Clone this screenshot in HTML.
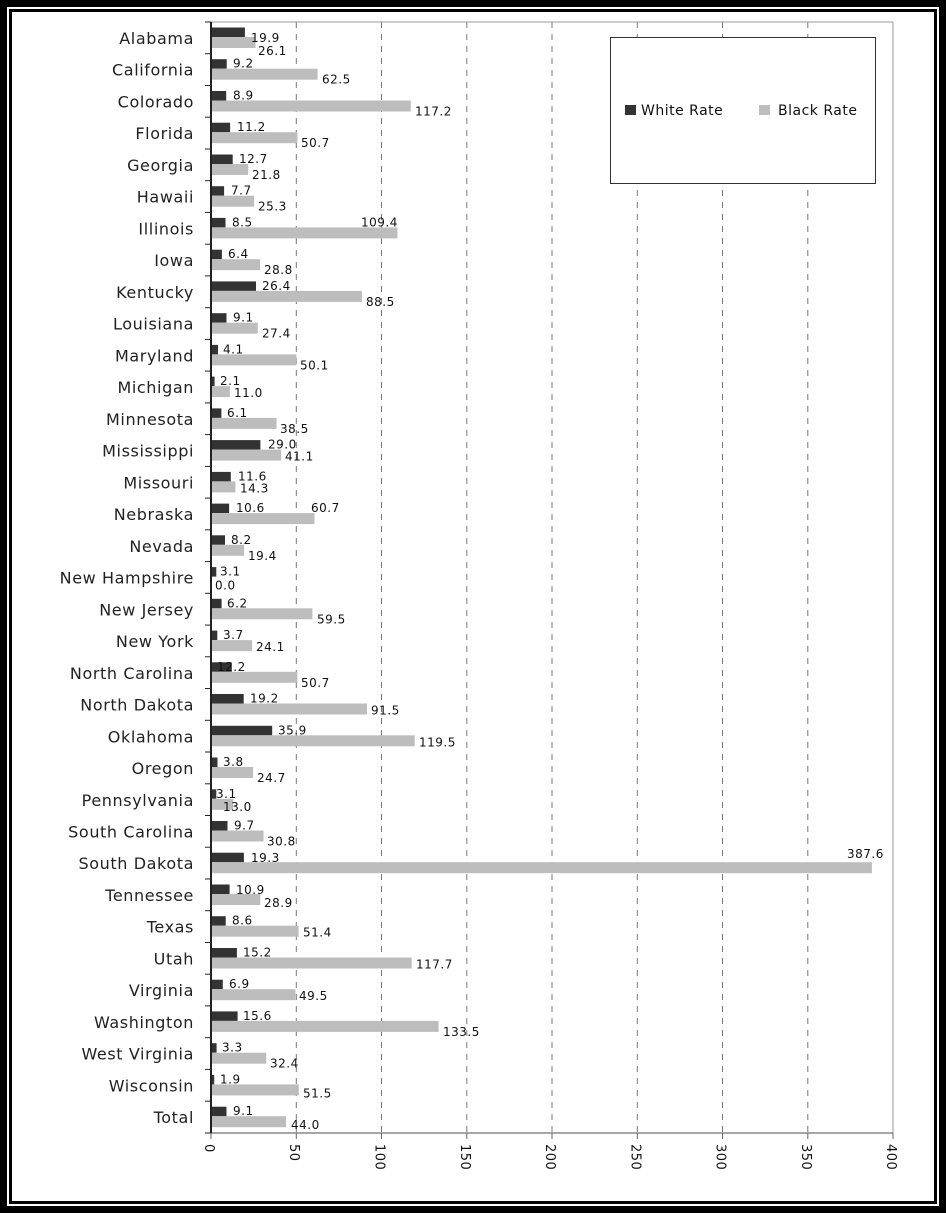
<!DOCTYPE html>
<html><head><meta charset="utf-8"><style>
html,body{margin:0;padding:0;background:#fff;}
svg{display:block;}
.s{font-family:"DejaVu Sans","Liberation Sans",sans-serif;font-size:16px;fill:#222;text-anchor:end;letter-spacing:0.6px;}
.v{font-family:"DejaVu Sans","Liberation Sans",sans-serif;font-size:12px;fill:#111;letter-spacing:0.5px;}
.w{fill:#333;}
.b{fill:#bdbdbd;}
</style></head><body>
<svg width="946" height="1213" viewBox="0 0 946 1213" xmlns="http://www.w3.org/2000/svg">
<rect x="0" y="0" width="946" height="1213" fill="#000"/>
<rect x="7" y="7" width="932" height="1199" fill="#fff"/>
<rect x="9" y="9" width="928" height="1195" fill="#000"/>
<rect x="12" y="12" width="922" height="1189" fill="#fff"/>
<g stroke="#777" stroke-width="1" stroke-dasharray="6,6">
<line x1="296.3" y1="22" x2="296.3" y2="1133"/>
<line x1="381.5" y1="22" x2="381.5" y2="1133"/>
<line x1="466.8" y1="22" x2="466.8" y2="1133"/>
<line x1="552" y1="22" x2="552" y2="1133"/>
<line x1="637.3" y1="22" x2="637.3" y2="1133"/>
<line x1="722.5" y1="22" x2="722.5" y2="1133"/>
<line x1="807.8" y1="22" x2="807.8" y2="1133"/>
</g>
<line x1="211" y1="22" x2="893" y2="22" stroke="#999"/>
<line x1="893" y1="22" x2="893" y2="1133" stroke="#999"/>
<line x1="211" y1="1133" x2="893" y2="1133" stroke="#888" stroke-width="1.5"/>
<g stroke="#666">
<line x1="211" y1="1133" x2="211" y2="1139"/><line x1="296.3" y1="1133" x2="296.3" y2="1139"/><line x1="381.5" y1="1133" x2="381.5" y2="1139"/><line x1="466.8" y1="1133" x2="466.8" y2="1139"/><line x1="552" y1="1133" x2="552" y2="1139"/><line x1="637.3" y1="1133" x2="637.3" y2="1139"/><line x1="722.5" y1="1133" x2="722.5" y2="1139"/><line x1="807.8" y1="1133" x2="807.8" y2="1139"/><line x1="893" y1="1133" x2="893" y2="1139"/>
</g>
<g class="v" style="font-size:13px">
<text transform="translate(205,1144) rotate(90)">0</text>
<text transform="translate(290,1144) rotate(90)">50</text>
<text transform="translate(375.5,1144) rotate(90)">100</text>
<text transform="translate(461,1144) rotate(90)">150</text>
<text transform="translate(546,1144) rotate(90)">200</text>
<text transform="translate(631.5,1144) rotate(90)">250</text>
<text transform="translate(716.5,1144) rotate(90)">300</text>
<text transform="translate(802,1144) rotate(90)">350</text>
<text transform="translate(887,1144) rotate(90)">400</text>
</g>
<rect x="610.5" y="37.5" width="265" height="146" fill="#fff" stroke="#333"/>
<rect x="625" y="105" width="11" height="10" class="w"/>
<text x="641" y="115" class="v" style="font-size:14px">White Rate</text>
<rect x="759" y="105" width="11" height="10" class="b"/>
<text x="778" y="115" class="v" style="font-size:14px">Black Rate</text>

<g id="rows">
<g transform="translate(211,22)"><line x1="-6" y1="0" x2="0" y2="0" stroke="#222"/><text class="s" x="-17" y="22">Alabama</text><rect class="w" y="5.5" width="33.9" height="9.5"/><rect class="b" y="15" width="44.5" height="11"/><text class="v" x="40" y="20">19.9</text><text class="v" x="47" y="33">26.1</text></g>
<g transform="translate(211,53.7)"><line x1="-6" y1="0" x2="0" y2="0" stroke="#222"/><text class="s" x="-17" y="22">California</text><rect class="w" y="5.5" width="15.7" height="9.5"/><rect class="b" y="15" width="106.6" height="11"/><text class="v" x="22" y="14">9.2</text><text class="v" x="111" y="30">62.5</text></g>
<g transform="translate(211,85.5)"><line x1="-6" y1="0" x2="0" y2="0" stroke="#222"/><text class="s" x="-17" y="22">Colorado</text><rect class="w" y="5.5" width="15.2" height="9.5"/><rect class="b" y="15" width="199.8" height="11"/><text class="v" x="22" y="14">8.9</text><text class="v" x="204" y="30">117.2</text></g>
<g transform="translate(211,117.2)"><line x1="-6" y1="0" x2="0" y2="0" stroke="#222"/><text class="s" x="-17" y="22">Florida</text><rect class="w" y="5.5" width="19.1" height="9.5"/><rect class="b" y="15" width="86.4" height="11"/><text class="v" x="26" y="14">11.2</text><text class="v" x="90" y="30">50.7</text></g>
<g transform="translate(211,149)"><line x1="-6" y1="0" x2="0" y2="0" stroke="#222"/><text class="s" x="-17" y="22">Georgia</text><rect class="w" y="5.5" width="21.7" height="9.5"/><rect class="b" y="15" width="37.2" height="11"/><text class="v" x="28" y="14">12.7</text><text class="v" x="41" y="30">21.8</text></g>
<g transform="translate(211,180.7)"><line x1="-6" y1="0" x2="0" y2="0" stroke="#222"/><text class="s" x="-17" y="22">Hawaii</text><rect class="w" y="5.5" width="13.1" height="9.5"/><rect class="b" y="15" width="43.1" height="11"/><text class="v" x="20" y="14">7.7</text><text class="v" x="47" y="30">25.3</text></g>
<g transform="translate(211,212.4)"><line x1="-6" y1="0" x2="0" y2="0" stroke="#222"/><text class="s" x="-17" y="22">Illinois</text><rect class="w" y="5.5" width="14.5" height="9.5"/><rect class="b" y="15" width="186.5" height="11"/><text class="v" x="21" y="14">8.5</text><text class="v" x="150" y="14">109.4</text></g>
<g transform="translate(211,244.2)"><line x1="-6" y1="0" x2="0" y2="0" stroke="#222"/><text class="s" x="-17" y="22">Iowa</text><rect class="w" y="5.5" width="10.9" height="9.5"/><rect class="b" y="15" width="49.1" height="11"/><text class="v" x="17" y="14">6.4</text><text class="v" x="53" y="30">28.8</text></g>
<g transform="translate(211,275.9)"><line x1="-6" y1="0" x2="0" y2="0" stroke="#222"/><text class="s" x="-17" y="22">Kentucky</text><rect class="w" y="5.5" width="45" height="9.5"/><rect class="b" y="15" width="150.9" height="11"/><text class="v" x="51" y="14">26.4</text><text class="v" x="155" y="30">88.5</text></g>
<g transform="translate(211,307.7)"><line x1="-6" y1="0" x2="0" y2="0" stroke="#222"/><text class="s" x="-17" y="22">Louisiana</text><rect class="w" y="5.5" width="15.5" height="9.5"/><rect class="b" y="15" width="46.7" height="11"/><text class="v" x="22" y="14">9.1</text><text class="v" x="51" y="30">27.4</text></g>
<g transform="translate(211,339.4)"><line x1="-6" y1="0" x2="0" y2="0" stroke="#222"/><text class="s" x="-17" y="22">Maryland</text><rect class="w" y="5.5" width="7" height="9.5"/><rect class="b" y="15" width="85.4" height="11"/><text class="v" x="12" y="14">4.1</text><text class="v" x="89" y="30">50.1</text></g>
<g transform="translate(211,371.1)"><line x1="-6" y1="0" x2="0" y2="0" stroke="#222"/><text class="s" x="-17" y="22">Michigan</text><rect class="w" y="5.5" width="3.6" height="9.5"/><rect class="b" y="15" width="18.8" height="11"/><text class="v" x="9" y="14">2.1</text><text class="v" x="23" y="26">11.0</text></g>
<g transform="translate(211,402.9)"><line x1="-6" y1="0" x2="0" y2="0" stroke="#222"/><text class="s" x="-17" y="22">Minnesota</text><rect class="w" y="5.5" width="10.4" height="9.5"/><rect class="b" y="15" width="65.6" height="11"/><text class="v" x="16" y="14">6.1</text><text class="v" x="69" y="30">38.5</text></g>
<g transform="translate(211,434.6)"><line x1="-6" y1="0" x2="0" y2="0" stroke="#222"/><text class="s" x="-17" y="22">Mississippi</text><rect class="w" y="5.5" width="49.4" height="9.5"/><rect class="b" y="15" width="70.1" height="11"/><text class="v" x="57" y="14">29.0</text><text class="v" x="74" y="26">41.1</text></g>
<g transform="translate(211,466.4)"><line x1="-6" y1="0" x2="0" y2="0" stroke="#222"/><text class="s" x="-17" y="22">Missouri</text><rect class="w" y="5.5" width="19.8" height="9.5"/><rect class="b" y="15" width="24.4" height="11"/><text class="v" x="27" y="14">11.6</text><text class="v" x="29" y="26">14.3</text></g>
<g transform="translate(211,498.1)"><line x1="-6" y1="0" x2="0" y2="0" stroke="#222"/><text class="s" x="-17" y="22">Nebraska</text><rect class="w" y="5.5" width="18.1" height="9.5"/><rect class="b" y="15" width="103.5" height="11"/><text class="v" x="25" y="14">10.6</text><text class="v" x="100" y="14">60.7</text></g>
<g transform="translate(211,529.8)"><line x1="-6" y1="0" x2="0" y2="0" stroke="#222"/><text class="s" x="-17" y="22">Nevada</text><rect class="w" y="5.5" width="14" height="9.5"/><rect class="b" y="15" width="33.1" height="11"/><text class="v" x="20" y="14">8.2</text><text class="v" x="37" y="30">19.4</text></g>
<g transform="translate(211,561.6)"><line x1="-6" y1="0" x2="0" y2="0" stroke="#222"/><text class="s" x="-17" y="22">New Hampshire</text><rect class="w" y="5.5" width="5.3" height="9.5"/><text class="v" x="9" y="14">3.1</text><text class="v" x="4" y="28">0.0</text></g>
<g transform="translate(211,593.3)"><line x1="-6" y1="0" x2="0" y2="0" stroke="#222"/><text class="s" x="-17" y="22">New Jersey</text><rect class="w" y="5.5" width="10.6" height="9.5"/><rect class="b" y="15" width="101.4" height="11"/><text class="v" x="16" y="14">6.2</text><text class="v" x="106" y="30">59.5</text></g>
<g transform="translate(211,625.1)"><line x1="-6" y1="0" x2="0" y2="0" stroke="#222"/><text class="s" x="-17" y="22">New York</text><rect class="w" y="5.5" width="6.3" height="9.5"/><rect class="b" y="15" width="41.1" height="11"/><text class="v" x="12" y="14">3.7</text><text class="v" x="45" y="26">24.1</text></g>
<g transform="translate(211,656.8)"><line x1="-6" y1="0" x2="0" y2="0" stroke="#222"/><text class="s" x="-17" y="22">North Carolina</text><rect class="w" y="5.5" width="20.8" height="9.5"/><rect class="b" y="15" width="86.4" height="11"/><text class="v" x="6" y="14">12.2</text><text class="v" x="90" y="30">50.7</text></g>
<g transform="translate(211,688.5)"><line x1="-6" y1="0" x2="0" y2="0" stroke="#222"/><text class="s" x="-17" y="22">North Dakota</text><rect class="w" y="5.5" width="32.7" height="9.5"/><rect class="b" y="15" width="156" height="11"/><text class="v" x="39" y="14">19.2</text><text class="v" x="160" y="26">91.5</text></g>
<g transform="translate(211,720.3)"><line x1="-6" y1="0" x2="0" y2="0" stroke="#222"/><text class="s" x="-17" y="22">Oklahoma</text><rect class="w" y="5.5" width="61.2" height="9.5"/><rect class="b" y="15" width="203.7" height="11"/><text class="v" x="67" y="14">35.9</text><text class="v" x="208" y="26">119.5</text></g>
<g transform="translate(211,752)"><line x1="-6" y1="0" x2="0" y2="0" stroke="#222"/><text class="s" x="-17" y="22">Oregon</text><rect class="w" y="5.5" width="6.5" height="9.5"/><rect class="b" y="15" width="42.1" height="11"/><text class="v" x="12" y="14">3.8</text><text class="v" x="46" y="30">24.7</text></g>
<g transform="translate(211,783.8)"><line x1="-6" y1="0" x2="0" y2="0" stroke="#222"/><text class="s" x="-17" y="22">Pennsylvania</text><rect class="w" y="5.5" width="5.3" height="9.5"/><rect class="b" y="15" width="22.2" height="11"/><text class="v" x="5" y="14">3.1</text><text class="v" x="12" y="27">13.0</text></g>
<g transform="translate(211,815.5)"><line x1="-6" y1="0" x2="0" y2="0" stroke="#222"/><text class="s" x="-17" y="22">South Carolina</text><rect class="w" y="5.5" width="16.5" height="9.5"/><rect class="b" y="15" width="52.5" height="11"/><text class="v" x="23" y="14">9.7</text><text class="v" x="56" y="30">30.8</text></g>
<g transform="translate(211,847.2)"><line x1="-6" y1="0" x2="0" y2="0" stroke="#222"/><text class="s" x="-17" y="22">South Dakota</text><rect class="w" y="5.5" width="32.9" height="9.5"/><rect class="b" y="15" width="660.9" height="11"/><text class="v" x="40" y="15">19.3</text><text class="v" x="636" y="11">387.6</text></g>
<g transform="translate(211,879)"><line x1="-6" y1="0" x2="0" y2="0" stroke="#222"/><text class="s" x="-17" y="22">Tennessee</text><rect class="w" y="5.5" width="18.6" height="9.5"/><rect class="b" y="15" width="49.3" height="11"/><text class="v" x="25" y="15">10.9</text><text class="v" x="53" y="28">28.9</text></g>
<g transform="translate(211,910.7)"><line x1="-6" y1="0" x2="0" y2="0" stroke="#222"/><text class="s" x="-17" y="22">Texas</text><rect class="w" y="5.5" width="14.7" height="9.5"/><rect class="b" y="15" width="87.6" height="11"/><text class="v" x="21" y="14">8.6</text><text class="v" x="92" y="26">51.4</text></g>
<g transform="translate(211,942.5)"><line x1="-6" y1="0" x2="0" y2="0" stroke="#222"/><text class="s" x="-17" y="22">Utah</text><rect class="w" y="5.5" width="25.9" height="9.5"/><rect class="b" y="15" width="200.7" height="11"/><text class="v" x="32" y="14">15.2</text><text class="v" x="205" y="26">117.7</text></g>
<g transform="translate(211,974.2)"><line x1="-6" y1="0" x2="0" y2="0" stroke="#222"/><text class="s" x="-17" y="22">Virginia</text><rect class="w" y="5.5" width="11.8" height="9.5"/><rect class="b" y="15" width="84.4" height="11"/><text class="v" x="18" y="14">6.9</text><text class="v" x="88" y="26">49.5</text></g>
<g transform="translate(211,1005.9)"><line x1="-6" y1="0" x2="0" y2="0" stroke="#222"/><text class="s" x="-17" y="22">Washington</text><rect class="w" y="5.5" width="26.6" height="9.5"/><rect class="b" y="15" width="227.6" height="11"/><text class="v" x="32" y="14">15.6</text><text class="v" x="232" y="30">133.5</text></g>
<g transform="translate(211,1037.7)"><line x1="-6" y1="0" x2="0" y2="0" stroke="#222"/><text class="s" x="-17" y="22">West Virginia</text><rect class="w" y="5.5" width="5.6" height="9.5"/><rect class="b" y="15" width="55.2" height="11"/><text class="v" x="11" y="14">3.3</text><text class="v" x="59" y="30">32.4</text></g>
<g transform="translate(211,1069.4)"><line x1="-6" y1="0" x2="0" y2="0" stroke="#222"/><text class="s" x="-17" y="22">Wisconsin</text><rect class="w" y="5.5" width="3.2" height="9.5"/><rect class="b" y="15" width="87.8" height="11"/><text class="v" x="9" y="14">1.9</text><text class="v" x="92" y="28">51.5</text></g>
<g transform="translate(211,1101.2)"><line x1="-6" y1="0" x2="0" y2="0" stroke="#222"/><text class="s" x="-17" y="22">Total</text><rect class="w" y="5.5" width="15.5" height="9.5"/><rect class="b" y="15" width="75" height="11"/><text class="v" x="22" y="14">9.1</text><text class="v" x="80" y="28">44.0</text></g>
<line x1="205" y1="1133" x2="211" y2="1133" stroke="#222"/>
</g>
<line x1="211" y1="22" x2="211" y2="1133" stroke="#222" stroke-width="2"/>
</svg>
</body></html>
